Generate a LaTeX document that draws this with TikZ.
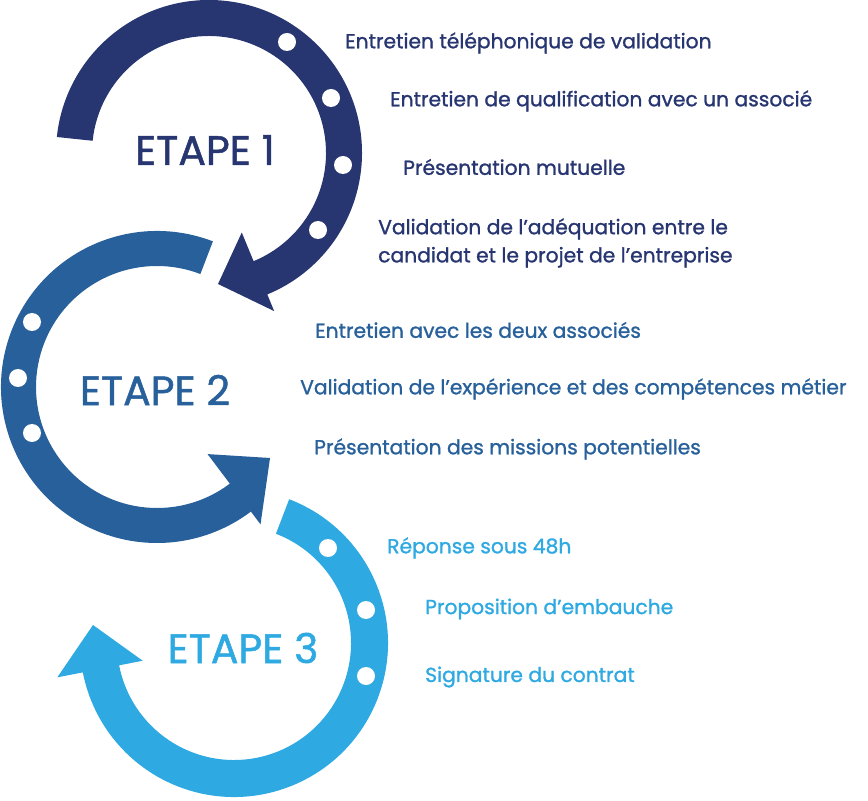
\documentclass[tikz,border=0pt]{standalone}
\usepackage{fontspec}
\setmainfont{Poppins}
\newfontfamily\semibold{Poppins}[FakeBold=1.2]
\usepackage{tikz}
\usetikzlibrary{calc}
\definecolor{navy}{HTML}{273570}
\definecolor{midblue}{HTML}{27609A}
\definecolor{skyblue}{HTML}{2EA9E1}
\tikzset{
  txt/.style={anchor=west, inner sep=0pt, align=left, font=\fontsize{17.3}{24}\semibold},
  etape/.style={inner sep=0pt, font=\fontsize{35}{38}\semibold},
  dot/.style={circle, fill=white, inner sep=0pt, minimum size=0.54cm}
}
\begin{document}
\begin{tikzpicture}[x=0.03cm, y=0.03cm]
\useasboundingbox (0,0) rectangle (868,800);
					%%
\coordinate (c1) at (209,647);
\coordinate (c2) at (157,413);
\coordinate (c3) at (234,157);
\coordinate (tip1) at (218,516);
\coordinate (tip2) at (270,342);
\coordinate (tip3) at (93,175);

% etape 1
\fill[navy] ($(c1)+(174:153)$) arc[start angle=174, end angle=-67.6, radius=153]
  -- ($(c1)+(-67.6:171)$) -- (tip1) -- ($(c1)+(-67.6:86)$) -- ($(c1)+(-67.6:117)$)
  arc[start angle=-67.6, end angle=174, radius=117] -- cycle;
% etape 2
\fill[midblue] ($(c2)+(69:156)$) arc[start angle=69, end angle=307, radius=156]
  -- ($(c2)+(307:172)$) -- (tip2) -- ($(c2)+(307:84)$) -- ($(c2)+(307:121)$)
  arc[start angle=307, end angle=69, radius=121] -- cycle;
% etape 3
\fill[skyblue] ($(c3)+(69:154)$) arc[start angle=69, end angle=-169, radius=154]
  -- ($(c3)+(-169:180)$) -- (tip3) -- ($(c3)+(-169:93)$) -- ($(c3)+(-169:117)$)
  arc[start angle=-169, end angle=69, radius=117] -- cycle;

\foreach \i/\p in {d11/{287,758}, d12/{331,702}, d13/{343,635}, d14/{318,570},
                   d21/{32,478}, d22/{18,422}, d23/{32,367},
                   d31/{328,252}, d32/{366,190}, d33/{366,124}}
\node[dot] (\i) at (\p) {};

\node[etape, text=navy] (e1) at (205,650) {ETAPE 1};
\node[etape, text=midblue] (e2) at (155,410) {ETAPE 2};
\node[etape, text=skyblue] (e3) at (243,152) {ETAPE 3};

\node[txt, text=navy] (t11) at (345,757) {Entretien téléphonique de validation};
\node[txt, text=navy] (t12) at (390,699) {Entretien de qualification avec un associé};
\node[txt, text=navy] (t13) at (403,633) {Présentation mutuelle};
\node[txt, text=navy] (t14) at (378,557) {Validation de l’adéquation entre le\\candidat et le projet de l’entreprise};

\node[txt, text=midblue] (t21) at (315,470) {Entretien avec les deux associés};
\node[txt, text=midblue] (t22) at (300,411) {Validation de l’expérience et des compétences métier};
\node[txt, text=midblue] (t23) at (314,351) {Présentation des missions potentielles};

\node[txt, text=skyblue] (t31) at (387,252) {Réponse sous 48h};
\node[txt, text=skyblue] (t32) at (425,191) {Proposition d’embauche};
\node[txt, text=skyblue] (t33) at (425,123) {Signature du contrat};
				\end{tikzpicture}
\end{document}
